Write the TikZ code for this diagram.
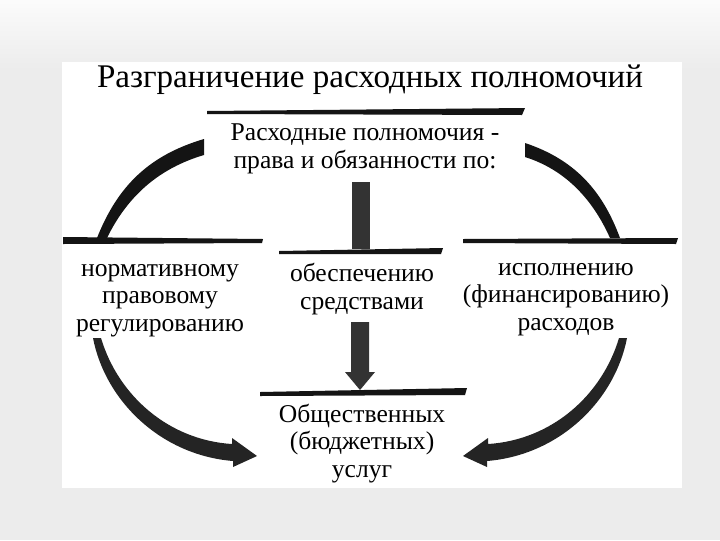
\documentclass[tikz,border=0pt]{standalone}
\usepackage{fontspec}
\setmainfont{Liberation Serif}
\usetikzlibrary{positioning, calc}

\begin{document}
\begin{tikzpicture}[
    x=0.025cm,
    y=-0.025cm,
    txt/.style={
        align=center,
        inner sep=0pt,
        anchor=base,
        font=\fontsize{18.2}{19.4}\selectfont
    },
    bar/.style={fill=black!92},
    band/.style={fill=black!92},
    shaft/.style={fill=black!80},
    curl/.style={fill=black!86}
]
\useasboundingbox (0,0) rectangle (720,540);

% slide and scanned sheet
\fill[gray!15] (0,0) rectangle (720,540);
\shade[top color=gray!3, bottom color=gray!15] (0,0) rectangle (720,70);
\fill[white] (62,62) rectangle (682,488);

% texts (base = last line)
\node[txt, font=\fontsize{23.5}{26}\selectfont] (title) at (370,87) {Разграничение расходных полномочий};
\node[txt] (duty) at (365,168) {Расходные полномочия -\\права и обязанности по:};
\node[txt] (norm) at (160,331) {нормативному\\правовому\\регулированию};
\node[txt] (means) at (362,309) {обеспечению\\средствами};
\node[txt] (exec) at (566,330) {исполнению\\(финансированию)\\расходов};
\node[txt] (serv) at (362,477) {Общественных\\(бюджетных)\\услуг};

% underlines
\fill[bar] (207,111) -- (525,108) -- (522,115) -- (207,114) -- cycle;
\fill[bar] (63,237) -- (263,239) -- (262,243) -- (63,244) -- cycle;
\fill[bar] (279,251) -- (443,248) -- (441,254) -- (279,254) -- cycle;
\fill[bar] (463,239) -- (678,238) -- (676,244) -- (463,243) -- cycle;
\fill[bar] (260,392) -- (467,388) -- (465,395) -- (260,396) -- cycle;

% middle column
\fill[shaft] (352,182) rectangle (370,249);
\fill[shaft] (351,322) -- (369,322) -- (369,372) -- (375,372) -- (360,390)
    -- (345,372) -- (351,372) -- cycle;

% upper arcs
\fill[band] (97,238) .. controls (118,185) and (150,155) .. (204,139)
    -- (204,155) .. controls (160,168) and (128,195) .. (107,238) -- cycle;
\fill[band] (620,238) .. controls (603,192) and (576,160) .. (525,143)
    -- (525,157) .. controls (566,170) and (593,200) .. (610,238) -- cycle;

% lower arrows
\fill[curl] (93,338) .. controls (105,400) and (160,455) .. (233,461)
    -- (233,467) -- (257,456) -- (232,438) -- (232,444)
    .. controls (168,440) and (118,395) .. (101,338) -- cycle;
\fill[curl] (627,338) .. controls (615,400) and (560,455) .. (487,461)
    -- (487,467) -- (463,456) -- (488,438) -- (488,444)
    .. controls (552,440) and (602,395) .. (619,338) -- cycle;

\end{tikzpicture}
\end{document}
